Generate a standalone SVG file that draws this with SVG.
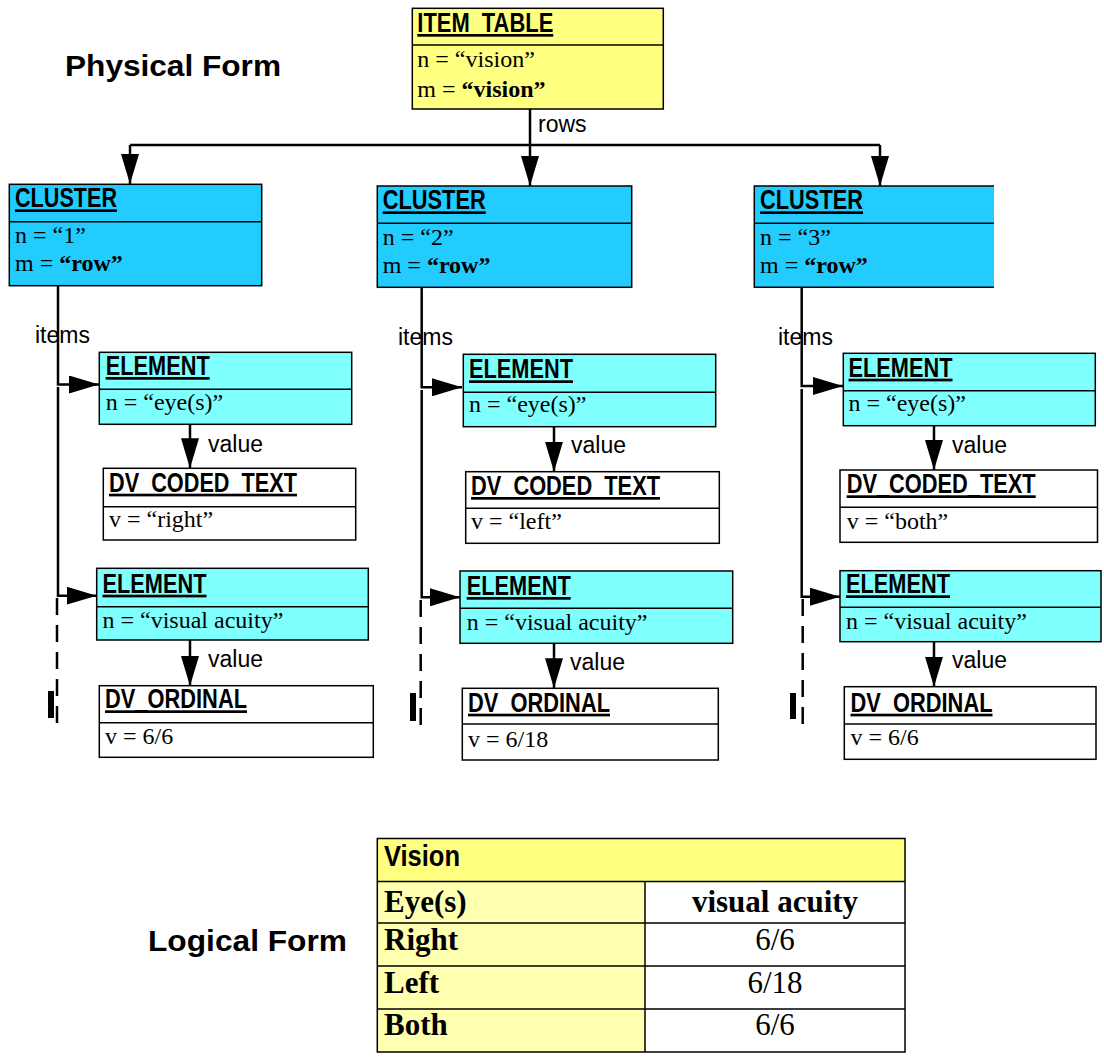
<svg xmlns="http://www.w3.org/2000/svg" width="1104" height="1057" viewBox="0 0 1104 1057">
<defs>
<style>
.t{font-family:"Liberation Sans Narrow","Arial Narrow","Liberation Sans",Arial,sans-serif;font-weight:bold;font-size:27px;text-decoration:underline;fill:#000}
.s{font-family:"Liberation Serif","Times New Roman",serif;font-size:24px;fill:#000}
.b{font-weight:bold}
.l{font-family:"Liberation Sans",Arial,sans-serif;font-size:23px;fill:#000}
.h{font-family:"Liberation Sans",Arial,sans-serif;font-weight:bold;font-size:30px;fill:#000}
.bx{stroke:#000;stroke-width:1.5}
.c{stroke:#000;stroke-width:2.5;fill:none}
.d{stroke:#000;stroke-width:2.5;fill:none;stroke-dasharray:17 10}
.yel{fill:#FFFF80}
.blu{fill:#22CCFF}
.cya{fill:#80FFFF}
.wh{fill:#FFFFFF}
.tb{font-family:"Liberation Serif","Times New Roman",serif;font-size:31px;fill:#000}
</style>
<marker id="ah" markerUnits="userSpaceOnUse" markerWidth="30" markerHeight="18" refX="30" refY="9" orient="auto">
<path d="M0,0 L30,9 L0,18 z" fill="#000"/>
</marker>
</defs>
<rect width="1104" height="1057" fill="#fff"/>

<text class="h" x="65" y="76" textLength="216" lengthAdjust="spacingAndGlyphs">Physical Form</text>
<text class="h" x="148" y="951" textLength="199" lengthAdjust="spacingAndGlyphs">Logical Form</text>

<g id="connectors">
<path class="c" d="M530,109 V186" marker-end="url(#ah)"/>
<path class="c" d="M130,145 H880"/>
<path class="c" d="M130,145 V184" marker-end="url(#ah)"/>
<path class="c" d="M880,145 V186" marker-end="url(#ah)"/>
<text class="l" x="538" y="132">rows</text>

<path class="c" d="M58,283 V384.5 H99" marker-end="url(#ah)"/>
<path class="c" d="M58,387 V595.7 H96.7" marker-end="url(#ah)"/>
<path class="d" d="M57,598 V733"/>
<rect x="48" y="691" width="6" height="27" fill="#000"/>
<text class="l" x="35" y="343">items</text>
<path class="c" d="M190,424.5 V468.3" marker-end="url(#ah)"/>
<text class="l" x="208" y="452">value</text>
<path class="c" d="M190,640 V686" marker-end="url(#ah)"/>
<text class="l" x="208" y="667">value</text>

<path class="c" d="M421.7,287 V387.3 H462" marker-end="url(#ah)"/>
<path class="c" d="M421.7,390 V597.3 H460" marker-end="url(#ah)"/>
<path class="d" d="M420.7,600 V734"/>
<rect x="410" y="693" width="6" height="28" fill="#000"/>
<text class="l" x="398" y="345">items</text>
<path class="c" d="M554,427 V471.7" marker-end="url(#ah)"/>
<text class="l" x="571" y="453">value</text>
<path class="c" d="M554,643.3 V688.3" marker-end="url(#ah)"/>
<text class="l" x="570" y="670">value</text>

<path class="c" d="M801.7,285 V386 H843" marker-end="url(#ah)"/>
<path class="c" d="M801.7,389 V596.7 H840" marker-end="url(#ah)"/>
<path class="d" d="M802.7,599 V730"/>
<rect x="790" y="693" width="6" height="26" fill="#000"/>
<text class="l" x="778" y="345">items</text>
<path class="c" d="M934,426 V470" marker-end="url(#ah)"/>
<text class="l" x="952" y="453">value</text>
<path class="c" d="M934,641.7 V686.7" marker-end="url(#ah)"/>
<text class="l" x="952" y="668">value</text>
</g>

<g id="item_table">
<rect class="yel bx" x="412.3" y="8.3" width="251" height="100.7"/>
<line class="bx" x1="412.3" y1="45" x2="663.3" y2="45"/>
<text class="t" x="417.3" y="32" textLength="136" lengthAdjust="spacingAndGlyphs">ITEM_TABLE</text>
<text class="s" x="417.3" y="67">n = “vision”</text>
<text class="s" x="417.3" y="97">m = <tspan class="b">“vision”</tspan></text>
</g>

<g id="cluster1">
<rect class="blu bx" x="9.3" y="184.3" width="252.4" height="101.4"/>
<line class="bx" x1="9.3" y1="221.7" x2="261.7" y2="221.7"/>
<text class="t" x="15" y="207.3" textLength="102" lengthAdjust="spacingAndGlyphs">CLUSTER</text>
<text class="s" x="15" y="243">n = “1”</text>
<text class="s" x="15" y="271">m = <tspan class="b">“row”</tspan></text>
</g>
<g id="element1a">
<rect class="cya bx" x="99.3" y="352.3" width="252.4" height="72"/>
<line class="bx" x1="99.3" y1="389.3" x2="351.7" y2="389.3"/>
<text class="t" x="105.7" y="375" textLength="104" lengthAdjust="spacingAndGlyphs">ELEMENT</text>
<text class="s" x="105.7" y="410">n = “eye(s)”</text>
</g>
<g id="coded1">
<rect class="wh bx" x="103.3" y="468.3" width="252.4" height="71.7"/>
<line class="bx" x1="103.3" y1="506.7" x2="355.7" y2="506.7"/>
<text class="t" x="109" y="491.7" textLength="188" lengthAdjust="spacingAndGlyphs">DV_CODED_TEXT</text>
<text class="s" x="109" y="527">v = “right”</text>
</g>
<g id="element1b">
<rect class="cya bx" x="96.7" y="568.3" width="271.6" height="71.7"/>
<line class="bx" x1="96.7" y1="606.7" x2="368.3" y2="606.7"/>
<text class="t" x="102.5" y="592.7" textLength="104" lengthAdjust="spacingAndGlyphs">ELEMENT</text>
<text class="s" x="102.5" y="627.5">n = “visual acuity”</text>
</g>
<g id="ordinal1">
<rect class="wh bx" x="99.3" y="685.7" width="274" height="71.6"/>
<line class="bx" x1="99.3" y1="722.7" x2="373.3" y2="722.7"/>
<text class="t" x="105" y="708.3" textLength="142" lengthAdjust="spacingAndGlyphs">DV_ORDINAL</text>
<text class="s" x="105" y="743.5">v = 6/6</text>
</g>

<g id="cluster2">
<rect class="blu bx" x="377.3" y="186" width="254.4" height="101.3"/>
<line class="bx" x1="377.3" y1="223.3" x2="631.7" y2="223.3"/>
<text class="t" x="382.7" y="209.3" textLength="103" lengthAdjust="spacingAndGlyphs">CLUSTER</text>
<text class="s" x="382.7" y="244.5">n = “2”</text>
<text class="s" x="382.7" y="273">m = <tspan class="b">“row”</tspan></text>
</g>
<g id="element2a">
<rect class="cya bx" x="463.3" y="354.3" width="252.4" height="72.4"/>
<line class="bx" x1="463.3" y1="392.3" x2="715.7" y2="392.3"/>
<text class="t" x="469" y="378.3" textLength="104" lengthAdjust="spacingAndGlyphs">ELEMENT</text>
<text class="s" x="469" y="412">n = “eye(s)”</text>
</g>
<g id="coded2">
<rect class="wh bx" x="465.7" y="471.7" width="253.6" height="71.6"/>
<line class="bx" x1="465.7" y1="508.3" x2="719.3" y2="508.3"/>
<text class="t" x="471" y="495" textLength="189" lengthAdjust="spacingAndGlyphs">DV_CODED_TEXT</text>
<text class="s" x="471" y="528.5">v = “left”</text>
</g>
<g id="element2b">
<rect class="cya bx" x="460" y="571" width="272.7" height="72.3"/>
<line class="bx" x1="460" y1="608.3" x2="732.7" y2="608.3"/>
<text class="t" x="466.7" y="595" textLength="104" lengthAdjust="spacingAndGlyphs">ELEMENT</text>
<text class="s" x="466.7" y="630">n = “visual acuity”</text>
</g>
<g id="ordinal2">
<rect class="wh bx" x="462.3" y="688.3" width="256" height="71.7"/>
<line class="bx" x1="462.3" y1="724" x2="718.3" y2="724"/>
<text class="t" x="468" y="711.7" textLength="142" lengthAdjust="spacingAndGlyphs">DV_ORDINAL</text>
<text class="s" x="468" y="747">v = 6/18</text>
</g>

<g id="cluster3">
<rect class="blu" x="754.3" y="186" width="239.7" height="101.3"/>
<path class="bx" fill="none" d="M994,186 H754.3 V287.3 H994 M754.3,223.3 H994"/>
<text class="t" x="760" y="209.3" textLength="103" lengthAdjust="spacingAndGlyphs">CLUSTER</text>
<text class="s" x="760" y="245">n = “3”</text>
<text class="s" x="760" y="273">m = <tspan class="b">“row”</tspan></text>
</g>
<g id="element3a">
<rect class="cya bx" x="843.3" y="353.3" width="252" height="72.4"/>
<line class="bx" x1="843.3" y1="390.7" x2="1095.3" y2="390.7"/>
<text class="t" x="848.5" y="376.7" textLength="104" lengthAdjust="spacingAndGlyphs">ELEMENT</text>
<text class="s" x="848.5" y="411">n = “eye(s)”</text>
</g>
<g id="coded3">
<rect class="wh bx" x="840" y="470" width="257.5" height="72.3"/>
<line class="bx" x1="840" y1="507.3" x2="1097.5" y2="507.3"/>
<text class="t" x="846.7" y="493.3" textLength="189" lengthAdjust="spacingAndGlyphs">DV_CODED_TEXT</text>
<text class="s" x="846.7" y="528.5">v = “both”</text>
</g>
<g id="element3b">
<rect class="cya bx" x="840" y="570.7" width="261" height="71"/>
<line class="bx" x1="840" y1="607.3" x2="1101" y2="607.3"/>
<text class="t" x="846" y="593.3" textLength="104" lengthAdjust="spacingAndGlyphs">ELEMENT</text>
<text class="s" x="846" y="629">n = “visual acuity”</text>
</g>
<g id="ordinal3">
<rect class="wh bx" x="844.3" y="686.7" width="251.7" height="72.6"/>
<line class="bx" x1="844.3" y1="724" x2="1096" y2="724"/>
<text class="t" x="850.5" y="711.7" textLength="142" lengthAdjust="spacingAndGlyphs">DV_ORDINAL</text>
<text class="s" x="850.5" y="745">v = 6/6</text>
</g>

<g id="vision_table">
<rect x="377.3" y="838.5" width="527.7" height="43" fill="#FFFF80"/>
<rect x="377.3" y="881.5" width="267.7" height="170.5" fill="#FFFFB0"/>
<rect x="645" y="881.5" width="260" height="170.5" fill="#FFFFFF"/>
<rect class="bx" fill="none" x="377.3" y="838.5" width="527.7" height="213.5"/>
<path class="bx" fill="none" d="M377.3,881.5 H905 M377.3,923 H905 M377.3,966 H905 M377.3,1009 H905 M645,881.5 V1052"/>
<text class="t" style="text-decoration:none;font-size:30px" x="384" y="866" textLength="76" lengthAdjust="spacingAndGlyphs">Vision</text>
<text class="tb b" x="384" y="911.5">Eye(s)</text>
<text class="tb b" x="775" y="911.5" text-anchor="middle">visual acuity</text>
<text class="tb b" x="384" y="950">Right</text>
<text class="tb" x="775" y="950" text-anchor="middle">6/6</text>
<text class="tb b" x="384" y="993">Left</text>
<text class="tb" x="775" y="993" text-anchor="middle">6/18</text>
<text class="tb b" x="384" y="1035">Both</text>
<text class="tb" x="775" y="1035" text-anchor="middle">6/6</text>
</g>
</svg>
